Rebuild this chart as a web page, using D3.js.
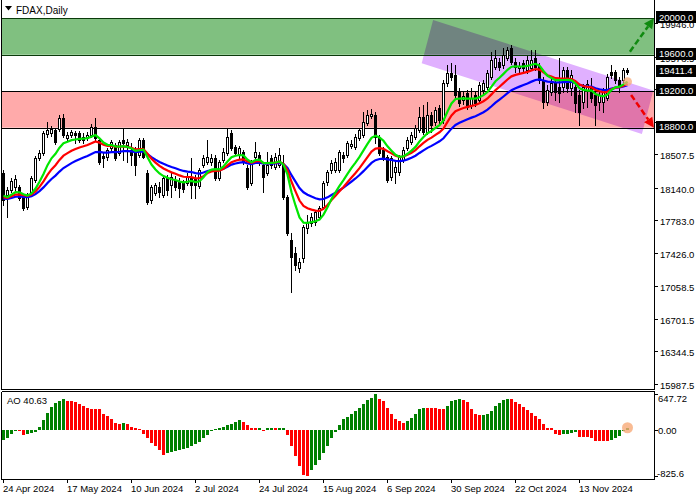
<!DOCTYPE html>
<html><head><meta charset="utf-8">
<script src="https://cdn.jsdelivr.net/npm/d3@7"></script>
<style>html,body{margin:0;background:#fff}svg{display:block;font-family:"Liberation Sans",Arial,sans-serif}</style>
</head><body><svg id="c" width="700" height="500"></svg>
<script>
const dateLabels = ["24 Apr 2024","17 May 2024","10 Jun 2024","2 Jul 2024","24 Jul 2024","15 Aug 2024","6 Sep 2024","30 Sep 2024","22 Oct 2024","13 Nov 2024"];
const dateIdx = [0,16,32,48,64,80,96,112,128,144];

const open = [18303,18062,18117,18150,18150,18051,17930,18095,18226,18468,18523,18731,18742,18775,18786,18907,18687,18720,18742,18742,
18698,18687,18720,18808,18665,18490,18479,18577,18610,18523,18665,18610,18556,18523,18501,18665,18303,18007,18084,18150,
18062,18248,18172,18226,18204,18193,18193,18259,18248,18161,18391,18424,18424,18468,18248,18446,18523,18742,18588,18501,
18534,18358,18193,18479,18501,18391,18303,18468,18369,18391,18391,18040,17568,17426,17261,17371,17700,17755,17766,17820,
17930,18204,18336,18336,18336,18501,18501,18599,18588,18687,18720,18852,18928,18939,18698,18556,18479,18259,18314,18314,
18446,18577,18643,18698,18775,18918,18753,18939,18863,19016,18885,19290,19400,19378,19192,19104,19181,19049,19159,19104,
19214,19247,19356,19466,19521,19488,19565,19674,19521,19455,19510,19433,19455,19565,19477,19323,19082,19192,19301,19247,
19247,19433,19236,19247,19159,19082,19214,19247,19159,19082,19082,19126,19411,19411,19323,19323,19433];
const high = [18336,18150,18248,18281,18172,18073,18084,18270,18490,18556,18764,18863,18819,18797,18939,18950,18753,18775,18764,18764,
18742,18753,18841,18907,18687,18534,18577,18665,18632,18665,18786,18676,18632,18588,18687,18687,18336,18172,18193,18204,
18270,18281,18303,18270,18248,18226,18303,18468,18281,18358,18501,18665,18512,18501,18446,18577,18786,18775,18610,18599,
18556,18391,18446,18643,18534,18424,18534,18501,18523,18577,18501,18062,17645,17491,17371,17733,17842,17864,17897,17941,
18215,18336,18446,18468,18556,18534,18654,18665,18731,18797,18972,18994,19005,18972,18720,18588,18501,18490,18446,18501,
18588,18698,18753,18830,19027,19049,19082,18972,19027,19049,19323,19488,19510,19488,19236,19192,19214,19236,19192,19301,
19323,19433,19631,19652,19565,19674,19685,19707,19565,19521,19543,19587,19652,19652,19510,19356,19269,19345,19345,19565,
19466,19466,19433,19323,19214,19280,19323,19345,19192,19192,19236,19389,19488,19433,19356,19455,19455];
const low = [17952,17820,18095,18117,18007,17897,17908,18073,18204,18446,18501,18698,18709,18621,18764,18698,18665,18698,18632,18643,
18632,18665,18698,18665,18402,18369,18446,18534,18446,18501,18446,18424,18391,18281,18479,18468,17963,17974,18062,18040,
18040,18062,18040,18117,18040,18095,18172,18029,18029,18139,18369,18402,18391,18226,18226,18424,18501,18556,18501,18468,
18402,18128,18172,18446,18391,18095,18281,18358,18347,18369,18018,17623,16998,17239,17217,17327,17645,17722,17733,17799,
17908,18172,18303,18314,18314,18424,18479,18577,18566,18665,18698,18830,18907,18632,18501,18446,18204,18226,18193,18281,
18424,18556,18621,18676,18753,18731,18731,18753,18830,18852,18852,19258,19323,19137,19038,19060,19005,19016,19038,19082,
19181,19225,19334,19444,19433,19455,19543,19499,19411,19411,19422,19400,19433,19433,19290,19016,19049,19159,19104,19082,
19192,19192,19159,18972,18830,19016,19027,19082,18830,18994,18972,19104,19345,19290,19192,19301,19389];
const close = [18007,18117,18215,18237,18029,17919,18062,18248,18468,18523,18742,18775,18786,18643,18907,18720,18720,18753,18720,18665,
18665,18720,18808,18687,18424,18468,18556,18643,18468,18643,18632,18643,18501,18391,18665,18479,17985,18150,18172,18095,
18248,18117,18259,18150,18139,18128,18270,18172,18172,18336,18468,18479,18468,18248,18424,18534,18698,18577,18523,18577,
18424,18150,18413,18534,18424,18259,18391,18391,18479,18501,18040,17645,17382,17294,17327,17711,17766,17820,17875,17919,
18193,18314,18413,18424,18534,18468,18632,18621,18698,18775,18863,18939,18950,18698,18523,18479,18226,18468,18369,18479,
18556,18665,18720,18797,18918,18753,18939,18830,18994,18885,19290,19400,19356,19159,19071,19148,19027,19126,19071,19269,
19290,19400,19543,19565,19466,19598,19652,19521,19466,19477,19455,19543,19543,19466,19323,19082,19214,19290,19192,19181,
19433,19236,19378,19071,18972,19247,19280,19126,19049,19159,19214,19356,19378,19323,19247,19433,19411.4];

const ao = [-180,-150,-72,-10,-18,-84,-66,-60,-42,48,174,312,414,492,528,558,525,520,498,470,
428,392,380,378,372,294,252,204,126,114,126,108,54,36,18,-72,-150,-228,-288,-366,
-450,-420,-390,-372,-360,-342,-318,-288,-252,-210,-150,-84,-18,24,42,60,90,114,150,186,
150,90,44,40,42,-8,30,45,28,34,36,-90,-288,-462,-660,-810,-825.6,-720,-630,-540,
-420,-288,-150,-30,90,198,240,282,342,390,468,540,582,647.72,570,528,390,288,192,162,
120,162,210,288,372,402,400,396,392,386,378,432,522,552,556,550,510,372,288,270,
272,282,342,432,492,540,560,555,510,474,420,360,312,258,192,108,42,30,-78,-84,
-80,-70,-60,-40,-130,-132,-135,-150,-198,-200,-204,-206,-186,-150,-108,-15,40.63];

const priceTicks = [15987.5,16344.5,16701.5,17058.5,17426.0,17783.0,18140.0,18507.5,18864.5,19221.5,19578.5,19946.0];
const aoTicks = [647.72, 0, -825.6];
const aoTickText = ["647.72","0.00","-825.6"];
const zoneGreen = [19600, 20000];
const zoneRed = [18800, 19200];
const levelBoxes = [20000, 19600, 19411.4, 19200, 18800];
const channelIdx = [107.4, 162.45, 159.6, 104.55];
const channelPrice = [19982, 19208, 18731, 19507];
const arrowFromIdx = [156.6, 156.9];
const arrowFromPrice = [19634, 19159];
const arrowToIdx = [162.6, 162.6];
const arrowToPrice = [20000, 18800];
const maPeriods = [13, 8, 5];
const maSeed = [18010, 18020, 18030];
const maColors = ["#0000ff", "#ff0000", "#00e600"];

const svg = d3.select("#c");
const X0 = 2, X1 = 654, MB = 389, AT = 391.5, AB = 479;
const x = d3.scaleLinear().domain([0,156]).range([3.5,627.5]);
const y = d3.scaleLinear().domain([15933,20201]).range([389,0]);
const ya = d3.scaleLinear().domain([-887,688]).range([479,392]);
const ry = v => Math.round(y(v)) + 0.5;

svg.append("rect").attr("width",700).attr("height",500).attr("fill","#fff");
const defs = svg.append("defs");
defs.append("clipPath").attr("id","mc").append("rect").attr("x",X0).attr("y",0).attr("width",X1-X0).attr("height",MB);
defs.append("clipPath").attr("id","ac").append("rect").attr("x",X0).attr("y",AT).attr("width",X1-X0).attr("height",AB-AT);

const main = svg.append("g").attr("clip-path","url(#mc)");
// zones
main.append("rect").attr("x",X0).attr("width",X1-X0)
  .attr("y",y(zoneGreen[1])).attr("height",y(zoneGreen[0])-y(zoneGreen[1])).attr("fill","#80c080");
main.append("rect").attr("x",X0).attr("width",X1-X0)
  .attr("y",y(zoneRed[1])).attr("height",y(zoneRed[0])-y(zoneRed[1])).attr("fill","#ffaaaa");
// channel
main.append("polygon")
  .attr("points", channelIdx.map((d,i)=>[x(d), y(channelPrice[i])].join(",")).join(" "))
  .attr("fill","#e0b0ff").style("mix-blend-mode","multiply");
// zone lines
[[zoneGreen[1],"#0a3a0a"],[zoneGreen[0],"#0a3a0a"],[zoneRed[1],"#000"],[zoneRed[0],"#000"]].forEach(([v,c])=>{
  main.append("line").attr("x1",X0).attr("x2",X1).attr("y1",ry(v)).attr("y2",ry(v))
    .attr("stroke",c).attr("stroke-width",1).attr("shape-rendering","crispEdges");
});

// candles
const cg = main.append("g").attr("shape-rendering","crispEdges");
close.forEach((c,i)=>{
  const o = open[i], cx = x(i);
  cg.append("line").attr("x1",cx).attr("x2",cx).attr("y1",Math.round(y(high[i]))).attr("y2",Math.round(y(low[i]))+1)
    .attr("stroke","#000").attr("stroke-width",1);
  const yt = Math.round(y(Math.max(o,c))), yb = Math.round(y(Math.min(o,c)));
  if (c >= o) {
    cg.append("rect").attr("x",cx-1).attr("width",2).attr("y",yt+0.5).attr("height",Math.max(yb-yt,1))
      .attr("fill","#fff").attr("stroke","#000").attr("stroke-width",1);
  } else {
    cg.append("rect").attr("x",cx-1.5).attr("width",3).attr("y",yt).attr("height",Math.max(yb-yt+1,2))
      .attr("fill","#000");
  }
});

// moving averages (smoothed MA of median price)
const median = close.map((c,i)=>(high[i]+low[i])/2);
const mas = maPeriods.map((n,k)=>{
  let s = maSeed[k];
  return median.map(m => (s = (s*(n-1)+m)/n));
});
const line = d3.line().x((d,i)=>x(i)).y(d=>y(d));
mas.forEach((m,k)=>{
  main.append("path").attr("d",line(m)).attr("fill","none").attr("stroke",maColors[k]).attr("stroke-width",2.2);
});

// arrows
const arrowColors = ["#108a10","#f00000"];
arrowFromIdx.forEach((fi,k)=>{
  const x1 = x(fi), y1 = y(arrowFromPrice[k]), x2 = x(arrowToIdx[k]), y2 = y(arrowToPrice[k]);
  const dx = x2-x1, dy = y2-y1, L = Math.hypot(dx,dy), ux = dx/L, uy = dy/L;
  const hl = 10, hw = 5;
  const bx = x2-ux*hl, by = y2-uy*hl;
  svg.append("line").attr("x1",x1).attr("y1",y1).attr("x2",bx).attr("y2",by)
    .attr("stroke",arrowColors[k]).attr("stroke-width",2.5).attr("stroke-dasharray","6,3");
  svg.append("polygon").attr("points",[[x2,y2],[bx-uy*hw,by+ux*hw],[bx+uy*hw,by-ux*hw]].map(p=>p.join(",")).join(" "))
    .attr("fill",arrowColors[k]);
});
// marker on last bar
main.append("circle").attr("cx",x(156)).attr("cy",y(mas[2][156])).attr("r",4.5).attr("fill","rgba(247,170,120,0.75)");

// AO panel
const ag = svg.append("g").attr("clip-path","url(#ac)").attr("shape-rendering","crispEdges");
ao.forEach((v,i)=>{
  const up = i===0 ? true : v > ao[i-1];
  const y0 = Math.round(ya(0)), y1 = Math.round(ya(v));
  ag.append("rect").attr("x",x(i)-1.5).attr("width",3)
    .attr("y",Math.min(y0,y1)).attr("height",Math.max(Math.abs(y1-y0),1))
    .attr("fill", up ? "#008000" : "#ff0000");
});
svg.append("circle").attr("cx",x(156)).attr("cy",ya(ao[156])).attr("r",5.5).attr("fill","rgba(247,170,120,0.8)");
svg.append("text").attr("x",7).attr("y",404).attr("font-size","9.5px").text("AO " + ao[ao.length-1].toFixed(2));

// frames
const fr = svg.append("g").attr("stroke","#000").attr("stroke-width",1).attr("shape-rendering","crispEdges");
fr.append("line").attr("x1",X0-0.5).attr("x2",X0-0.5).attr("y1",0).attr("y2",MB+0.5);
fr.append("line").attr("x1",X0-0.5).attr("x2",X0-0.5).attr("y1",AT).attr("y2",AB+0.5);
fr.append("line").attr("x1",X1+0.5).attr("x2",X1+0.5).attr("y1",0).attr("y2",MB+0.5);
fr.append("line").attr("x1",X1+0.5).attr("x2",X1+0.5).attr("y1",AT).attr("y2",AB+0.5);
fr.append("line").attr("x1",X0-0.5).attr("x2",X1+0.5).attr("y1",MB+0.5).attr("y2",MB+0.5);
fr.append("line").attr("x1",X0-0.5).attr("x2",X1+0.5).attr("y1",AT).attr("y2",AT);
fr.append("line").attr("x1",X0-0.5).attr("x2",X1+0.5).attr("y1",AB+0.5).attr("y2",AB+0.5);

// price axis
const ax = svg.append("g").attr("font-size","9.5px");
priceTicks.forEach(t=>{
  ax.append("line").attr("x1",X1+1).attr("x2",X1+4).attr("y1",ry(t)).attr("y2",ry(t))
    .attr("stroke","#000").attr("shape-rendering","crispEdges");
  ax.append("text").attr("x",660).attr("y",y(t)+5).text(t.toFixed(1));
});
levelBoxes.forEach(v=>{
  const cy = y(v) - 1;
  ax.append("rect").attr("x",656).attr("y",Math.round(cy-6)).attr("width",40).attr("height",12).attr("fill","#000");
  ax.append("text").attr("x",659).attr("y",cy+3.5).attr("fill","#fff").text(v.toFixed(1));
});
// AO axis
aoTicks.forEach((t,k)=>{
  const ty = Math.round(ya(t))+0.5;
  ax.append("line").attr("x1",X1+1).attr("x2",X1+4).attr("y1",ty).attr("y2",ty)
    .attr("stroke","#000").attr("shape-rendering","crispEdges");
  const off = k===0 ? 8 : (k===1 ? 4 : 1);
  ax.append("text").attr("x", t<0 ? 657 : 658).attr("y",ya(t)+off).text(aoTickText[k]);
});
// date axis
dateIdx.forEach((di,k)=>{
  const tx = Math.round(x(di)-0.5)+0.5;
  ax.append("line").attr("x1",tx).attr("x2",tx).attr("y1",AB+1).attr("y2",AB+4)
    .attr("stroke","#000").attr("shape-rendering","crispEdges");
  ax.append("text").attr("x",x(di)-0.5).attr("y",492).text(dateLabels[k]);
});
// header
svg.append("polygon").attr("points","5,6 12,6 8.5,10.5").attr("fill","#000");
svg.append("text").attr("x",16).attr("y",14).attr("font-size","10px").text("FDAX,Daily");
</script></body></html>
